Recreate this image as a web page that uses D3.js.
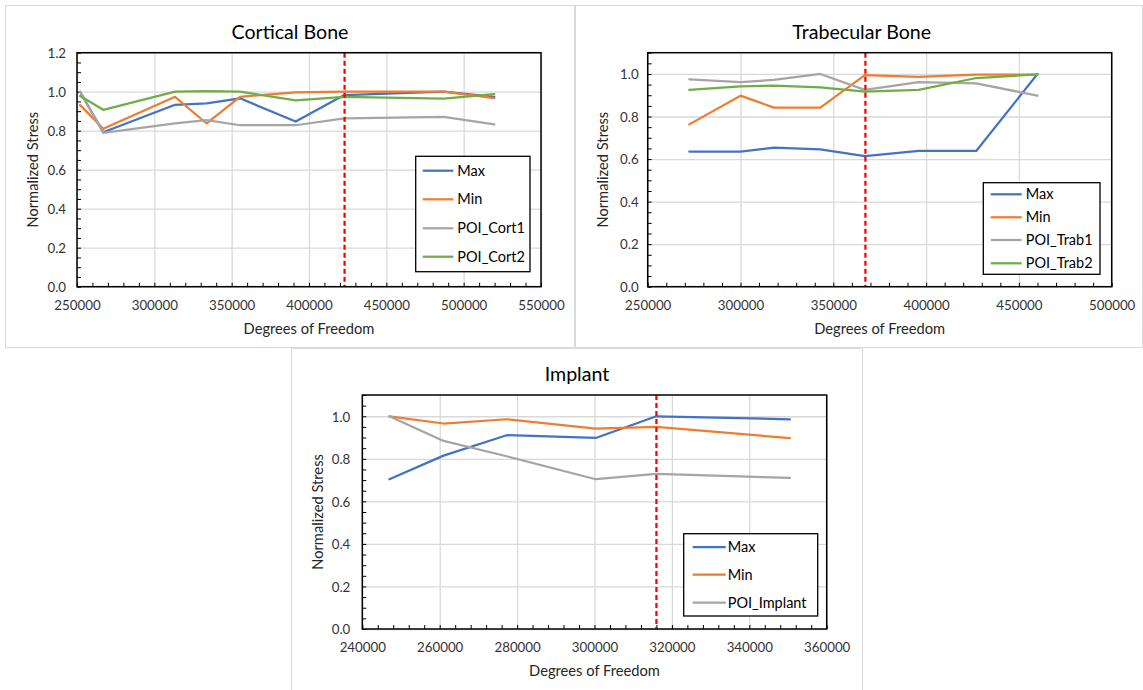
<!DOCTYPE html>
<html>
<head>
<meta charset="utf-8">
<script src="https://cdn.jsdelivr.net/npm/d3@7"></script>
<style>
  html, body { margin: 0; padding: 0; background: #fff; }
  svg { display: block; }
</style>
</head>
<body>
<svg id="chart" width="1143" height="690"></svg>
<script>
// ---------------- DATA ----------------
const seriesColors = ["#4472C4", "#ED7D31", "#A5A5A5", "#70AD47"];

// Cortical Bone
const cortTitle = "Cortical Bone";
const cortDof = [252000, 267000, 313400, 333800, 355400, 391400, 422800, 487100, 519800];
const cortNames = ["Max", "Min", "POI_Cort1", "POI_Cort2"];
const cortMax   = [1.000, 0.792, 0.933, 0.940, 0.966, 0.847, 0.983, 1.000, 0.973];
const cortMin   = [0.931, 0.810, 0.974, 0.837, 0.974, 0.997, 1.000, 1.000, 0.967];
const cortPoi1  = [1.000, 0.789, 0.837, 0.854, 0.828, 0.828, 0.863, 0.871, 0.832];
const cortPoi2  = [0.978, 0.907, 1.000, 1.003, 1.000, 0.955, 0.974, 0.964, 0.988];
const cortConverged = 423000;
const cortXTicks = [250000, 300000, 350000, 400000, 450000, 500000, 550000];
const cortYTicks = [0.0, 0.2, 0.4, 0.6, 0.8, 1.0, 1.2];

// Trabecular Bone
const trabTitle = "Trabecular Bone";
const trabDof = [272400, 300000, 318000, 343000, 367000, 396000, 427000, 460000];
const trabNames = ["Max", "Min", "POI_Trab1", "POI_Trab2"];
const trabMax   = [0.635, 0.635, 0.654, 0.646, 0.614, 0.638, 0.638, 1.000];
const trabMin   = [0.763, 0.898, 0.842, 0.842, 0.995, 0.986, 0.997, 0.997];
const trabPoi1  = [0.975, 0.962, 0.972, 1.000, 0.925, 0.962, 0.956, 0.898];
const trabPoi2  = [0.925, 0.942, 0.945, 0.937, 0.917, 0.925, 0.981, 0.998];
const trabConverged = 367300;
const trabXTicks = [250000, 300000, 350000, 400000, 450000, 500000];
const trabYTicks = [0.0, 0.2, 0.4, 0.6, 0.8, 1.0];

// Implant
const implTitle = "Implant";
const implDof = [247000, 261000, 277300, 300300, 316000, 350500];
const implNames = ["Max", "Min", "POI_Implant"];
const implMax   = [0.704, 0.815, 0.911, 0.898, 1.000, 0.986];
const implMin   = [1.000, 0.966, 0.986, 0.942, 0.950, 0.897];
const implPoi   = [1.000, 0.884, 0.812, 0.704, 0.729, 0.710];
const implConverged = 316000;
const implXTicks = [240000, 260000, 280000, 300000, 320000, 340000, 360000];
const implYTicks = [0.0, 0.2, 0.4, 0.6, 0.8, 1.0];

const xLabel = "Degrees of Freedom";
const yLabel = "Normalized Stress";

// ---------------- DRAWING ----------------
const FONT = "Lato, 'Open Sans', sans-serif";
const svg = d3.select("#chart");

function drawChart(cfg) {
  const g = svg.append("g");
  const P = cfg.plot;
  const x = d3.scaleLinear().domain([cfg.xTicks[0], cfg.xTicks[cfg.xTicks.length - 1]]).range([P.x0, P.x1]);
  const y = d3.scaleLinear().domain([0, cfg.yMax]).range([P.y1, P.y0]);

  // panel frame
  g.append("rect")
    .attr("x", cfg.panel.x + 0.5).attr("y", cfg.panel.y + 0.5)
    .attr("width", cfg.panel.w).attr("height", cfg.panel.h)
    .attr("fill", "#fff").attr("stroke", "#D9D9D9").attr("stroke-width", 1);

  // gridlines
  g.append("g").attr("transform", `translate(0,${P.y0})`)
    .call(d3.axisBottom(x).tickValues(cfg.xTicks).tickSize(P.y1 - P.y0).tickFormat(""))
    .call(s => s.select(".domain").remove())
    .call(s => s.selectAll("line").attr("stroke", "#D9D9D9").attr("stroke-width", 1.3));
  g.append("g").attr("transform", `translate(${P.x0},0)`)
    .call(d3.axisRight(y).tickValues(cfg.yTicks).tickSize(P.x1 - P.x0).tickFormat(""))
    .call(s => s.select(".domain").remove())
    .call(s => s.selectAll("line").attr("stroke", "#D9D9D9").attr("stroke-width", 1.3));

  // minor ticks (inside)
  const xMinor = [];
  const xStep = (cfg.xTicks[1] - cfg.xTicks[0]) / 5;
  const nX = Math.round((cfg.xTicks[cfg.xTicks.length - 1] - cfg.xTicks[0]) / xStep);
  for (let i = 0; i <= nX; i++) xMinor.push(cfg.xTicks[0] + i * xStep);
  const yMinor = [];
  const nY = Math.round(cfg.yMax / 0.05);
  for (let i = 0; i <= nY; i++) yMinor.push(i * 0.05);

  g.append("g").attr("transform", `translate(0,${P.y1})`)
    .call(d3.axisBottom(x).tickValues(xMinor).tickSize(-4).tickFormat(""))
    .call(s => s.select(".domain").remove())
    .call(s => s.selectAll("line").attr("stroke", "#000").attr("stroke-width", 1));
  g.append("g").attr("transform", `translate(${P.x0},0)`)
    .call(d3.axisLeft(y).tickValues(yMinor).tickSize(-4).tickFormat(""))
    .call(s => s.select(".domain").remove())
    .call(s => s.selectAll("line").attr("stroke", "#000").attr("stroke-width", 1));

  // tick labels
  g.append("g").attr("transform", `translate(0,${P.y1})`)
    .call(d3.axisBottom(x).tickValues(cfg.xTicks).tickSize(0).tickFormat(d3.format("d")))
    .call(s => s.select(".domain").remove())
    .call(s => s.selectAll("text").attr("y", 23).attr("dy", null)
      .attr("font-family", FONT).attr("font-size", 13.3).attr("fill", "#333"));
  g.append("g").attr("transform", `translate(${P.x0},0)`)
    .call(d3.axisLeft(y).tickValues(cfg.yTicks).tickSize(0).tickPadding(cfg.yPad).tickFormat(d3.format(".1f")))
    .call(s => s.select(".domain").remove())
    .call(s => s.selectAll("text").attr("dy", "0.36em")
      .attr("font-family", FONT).attr("font-size", 13.3).attr("fill", "#333"));

  // series
  const line = d3.line().x(d => x(d[0])).y(d => y(d[1]));
  cfg.series.forEach((vals, i) => {
    const pts = cfg.dof.map((d, j) => [d, vals[j]]);
    g.append("path").datum(pts)
      .attr("d", line)
      .attr("fill", "none")
      .attr("stroke", seriesColors[i])
      .attr("stroke-width", 2.25)
      .attr("stroke-linejoin", "round")
      .attr("stroke-linecap", "round");
  });

  // convergence line
  g.append("line")
    .attr("x1", x(cfg.converged)).attr("x2", x(cfg.converged))
    .attr("y1", P.y0).attr("y2", P.y1)
    .attr("stroke", "#FF0000").attr("stroke-width", 2.25)
    .attr("stroke-dasharray", "5,3");

  // plot border
  g.append("rect")
    .attr("x", P.x0).attr("y", P.y0)
    .attr("width", P.x1 - P.x0).attr("height", P.y1 - P.y0)
    .attr("fill", "none").attr("stroke", "#000").attr("stroke-width", 1.5);

  // titles
  g.append("text").attr("x", cfg.titleX).attr("y", cfg.titleY)
    .attr("text-anchor", "middle").attr("font-family", FONT)
    .attr("font-size", 19.6).attr("fill", "#000").text(cfg.title);
  g.append("text").attr("x", (P.x0 + P.x1) / 2).attr("y", cfg.xLabelY)
    .attr("text-anchor", "middle").attr("font-family", FONT)
    .attr("font-size", 14.7).attr("fill", "#262626").text(xLabel);
  g.append("text")
    .attr("transform", `translate(${cfg.yLabelX},${(P.y0 + P.y1) / 2}) rotate(-90)`)
    .attr("text-anchor", "middle").attr("font-family", FONT)
    .attr("font-size", 14.7).attr("fill", "#262626").text(yLabel);

  // legend
  const L = cfg.legend;
  g.append("rect").attr("x", L.x).attr("y", L.y).attr("width", L.w).attr("height", L.h)
    .attr("fill", "#fff").attr("stroke", "#000").attr("stroke-width", 1.3);
  cfg.names.forEach((name, i) => {
    const ry = L.rows[i];
    g.append("line").attr("x1", L.lx0).attr("x2", L.lx1).attr("y1", ry).attr("y2", ry)
      .attr("stroke", seriesColors[i]).attr("stroke-width", 2.25);
    g.append("text").attr("x", L.tx).attr("y", ry).attr("dy", "0.35em")
      .attr("font-family", FONT).attr("font-size", 14.5).attr("fill", "#000").text(name);
  });
}

drawChart({
  title: cortTitle, names: cortNames, dof: cortDof,
  series: [cortMax, cortMin, cortPoi1, cortPoi2],
  converged: cortConverged, xTicks: cortXTicks, yTicks: cortYTicks, yMax: 1.2,
  panel: { x: 5, y: 5, w: 569, h: 342 },
  plot: { x0: 77, x1: 541, y0: 52.7, y1: 286.7 },
  titleX: 290, titleY: 39, xLabelY: 334, yLabelX: 37.5, yPad: 11,
  legend: { x: 415.7, y: 156.3, w: 114.3, h: 115.4, rows: [170.7, 199.3, 228.3, 256.7], lx0: 422.7, lx1: 453.3, tx: 457.3 }
});

drawChart({
  title: trabTitle, names: trabNames, dof: trabDof,
  series: [trabMax, trabMin, trabPoi1, trabPoi2],
  converged: trabConverged, xTicks: trabXTicks, yTicks: trabYTicks, yMax: 1.1,
  panel: { x: 575, y: 5, w: 567, h: 342 },
  plot: { x0: 647.7, x1: 1111.7, y0: 52.7, y1: 286.7 },
  titleX: 861.7, titleY: 39, xLabelY: 334, yLabelX: 608, yPad: 9,
  legend: { x: 983.3, y: 182.7, w: 116.7, h: 91.6, rows: [194.3, 217.3, 240, 263.3], lx0: 990.7, lx1: 1021.7, tx: 1025.7 }
});

drawChart({
  title: implTitle, names: implNames, dof: implDof,
  series: [implMax, implMin, implPoi],
  converged: implConverged, xTicks: implXTicks, yTicks: implYTicks, yMax: 1.1,
  panel: { x: 291, y: 348, w: 571, h: 342 },
  plot: { x0: 362.3, x1: 826.7, y0: 395, y1: 629 },
  titleX: 577, titleY: 380.5, xLabelY: 676, yLabelX: 322.5, yPad: 12,
  legend: { x: 683.7, y: 533.7, w: 134, h: 82.3, rows: [547, 574.7, 602.7], lx0: 692.7, lx1: 725.7, tx: 727.7 }
});
</script>
</body>
</html>
